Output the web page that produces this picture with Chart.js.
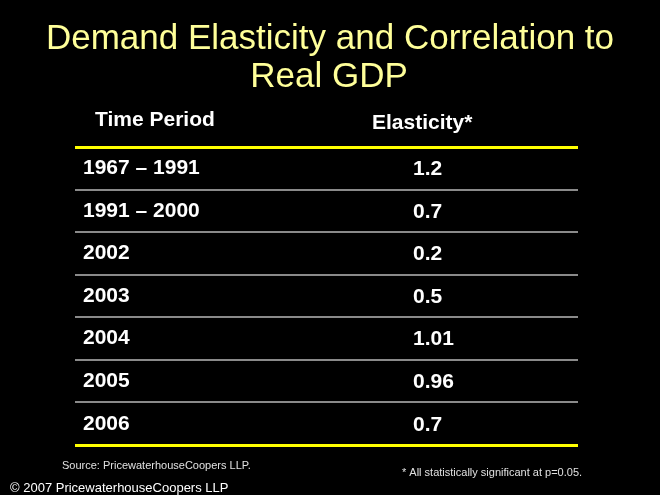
<!DOCTYPE html>
<html>
<head>
<meta charset="utf-8">
<script src="https://cdn.jsdelivr.net/npm/chart.js@4.4.1/dist/chart.umd.min.js"></script>
<style>
  html, body { margin: 0; padding: 0; background: #000; }
  #wrap { width: 660px; height: 495px; position: relative; }
</style>
</head>
<body>
<div id="wrap"><canvas id="c" width="660" height="495"></canvas></div>
<script>
// ---- data ----
const titleLines = ['Demand Elasticity and Correlation to', 'Real GDP'];
const columnHeaders = ['Time Period', 'Elasticity*'];
const periods = ['1967 \u2013 1991', '1991 \u2013 2000', '2002', '2003', '2004', '2005', '2006'];
const elasticity = [1.2, 0.7, 0.2, 0.5, 1.01, 0.96, 0.7];
const sourceNote = 'Source: PricewaterhouseCoopers LLP.';
const significanceNote = '* All statistically significant at p=0.05.';
const copyrightNote = '\u00A9 2007 PricewaterhouseCoopers LLP';

const FONT = '"Liberation Sans", Arial, Helvetica, sans-serif';
const YELLOW = '#ffff00';
const GRAY = '#8a8a8a';

const isEdge = (ctx) => ctx.index === undefined || ctx.index === 0 || ctx.index >= periods.length;

const tableTextPlugin = {
  id: 'tableText',
  afterDraw(chart) {
    const ctx = chart.ctx;
    const area = chart.chartArea;
    const meta = chart.getDatasetMeta(0);
    const valueX = area.left + (area.right - area.left) * 0.672;
    ctx.save();
    // title
    ctx.fillStyle = '#ffff99';
    ctx.textAlign = 'center';
    ctx.textBaseline = 'alphabetic';
    ctx.font = '35px ' + FONT;
    ctx.wordSpacing = '0px';
    ctx.fillText(titleLines[0], chart.width / 2, 49);
    ctx.fillText(titleLines[1], chart.width / 2 - 1, 87);

    ctx.textBaseline = 'middle';
    ctx.textAlign = 'left';
    ctx.fillStyle = '#ffffff';
    // column headers
    ctx.font = 'bold 21px ' + FONT;
    ctx.fillText(columnHeaders[0], area.left + 20, area.top - 27);
    ctx.fillText(columnHeaders[1], area.left + 297, area.top - 24);
    // values
    meta.data.forEach((el, i) => {
      ctx.fillText(String(elasticity[i]), valueX, el.y + 1);
    });
    // notes
    ctx.fillStyle = '#e0e0e0';
    ctx.font = '11px ' + FONT;
    ctx.fillText(sourceNote, 62, 466);
    ctx.fillText(significanceNote, 402, 473);
    ctx.fillStyle = '#ffffff';
    ctx.font = '13px ' + FONT;
    ctx.fillText(copyrightNote, 10, 488);
    ctx.restore();
  }
};

new Chart(document.getElementById('c'), {
  type: 'bar',
  data: {
    labels: periods,
    datasets: [{
      data: elasticity,
      backgroundColor: 'rgba(0,0,0,0)',
      borderWidth: 0
    }]
  },
  options: {
    indexAxis: 'y',
    responsive: false,
    animation: false,
    events: [],
    layout: { padding: { left: 59, right: 82, top: 147, bottom: 50 } },
    plugins: {
      legend: { display: false },
      tooltip: { enabled: false },
      title: { display: false }
    },
    scales: {
      x: { display: false, min: 0, max: 2 },
      y: {
        offset: true,
        border: { display: false },
        grid: {
          offset: true,
          drawTicks: false,
          color: (c) => isEdge(c) ? YELLOW : GRAY,
          lineWidth: (c) => isEdge(c) ? 3 : 2
        },
        ticks: {
          mirror: true,
          padding: 8,
          color: '#ffffff',
          font: { family: FONT, size: 21, weight: 'bold' }
        }
      }
    }
  },
  plugins: [tableTextPlugin]
});
</script>
</body>
</html>
